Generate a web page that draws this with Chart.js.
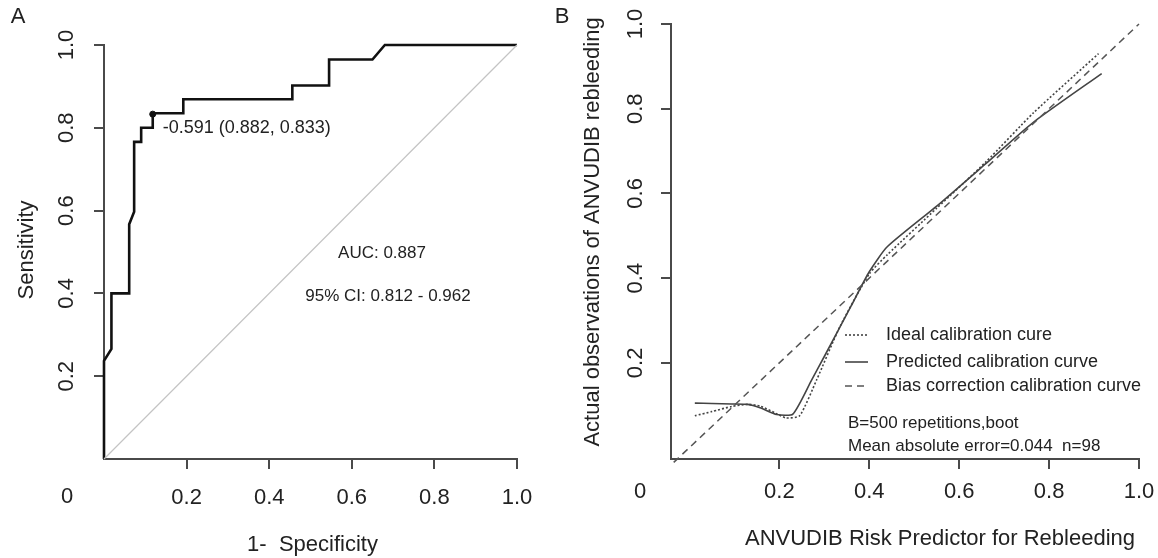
<!DOCTYPE html>
<html>
<head>
<meta charset="utf-8">
<script src="https://cdn.jsdelivr.net/npm/chart.js@4.4.1/dist/chart.umd.min.js"></script>
<style>
  html, body { margin: 0; padding: 0; background: #fff; }
  #wrap { position: relative; width: 1158px; height: 558px; }
  #wrap canvas { position: absolute; left: 0; top: 0; }
</style>
</head>
<body>
<div id="wrap">
  <canvas id="rocChart" width="1158" height="558"></canvas>
  <canvas id="calChart" width="1158" height="558"></canvas>
</div>
<script>
// ---- panel A : ROC curve ----
const rocFpr = [0, 0, 0.018, 0.018, 0.061, 0.061, 0.073, 0.073, 0.09, 0.09, 0.118, 0.118, 0.192, 0.192, 0.456, 0.456, 0.545, 0.545, 0.65, 0.68, 1.0];
const rocTpr = [0, 0.237, 0.266, 0.40, 0.40, 0.567, 0.597, 0.766, 0.766, 0.80, 0.80, 0.835, 0.835, 0.869, 0.869, 0.902, 0.902, 0.965, 0.965, 1.0, 1.0];
const cutFpr = [0.118];
const cutTpr = [0.833];
const chanceLine = [0, 1];
const cutLabel = '-0.591 (0.882, 0.833)';
const aucLabel = 'AUC: 0.887';
const ciLabel = '95% CI: 0.812 - 0.962';

// ---- panel B : calibration curves ----
const idealX = [-0.035, 1.0];
const idealY = [-0.035, 1.0];
const apparentX = [0.012, 0.05, 0.094, 0.13, 0.157, 0.194, 0.23, 0.272, 0.30, 0.36, 0.40, 0.44, 0.55, 0.66, 0.765, 0.917];
const apparentY = [0.105, 0.104, 0.103, 0.102, 0.094, 0.078, 0.079, 0.16, 0.215, 0.335, 0.415, 0.474, 0.57, 0.671, 0.768, 0.883];
const biasX = [0.012, 0.05, 0.094, 0.13, 0.157, 0.194, 0.215, 0.245, 0.283, 0.335, 0.40, 0.44, 0.55, 0.66, 0.765, 0.91];
const biasY = [0.075, 0.085, 0.097, 0.102, 0.098, 0.08, 0.07, 0.075, 0.16, 0.286, 0.41, 0.455, 0.565, 0.675, 0.79, 0.93];
const legendLabels = ['Ideal calibration cure', 'Predicted calibration curve', 'Bias correction calibration curve'];
const noteLines = ['B=500 repetitions,boot', 'Mean absolute error=0.044  n=98'];

// shared tick values / labels
const tickVals = [0.2, 0.4, 0.6, 0.8, 1.0];
const tickLabels = ['0.2', '0.4', '0.6', '0.8', '1.0'];

const FONT = '"Liberation Sans", Arial, sans-serif';
const INK = '#222';
const AXIS = '#4a4a4a';

function toPoints(xs, ys) {
    return xs.map((x, i) => ({ x: x, y: ys[i] }));
}

function drawText(ctx, txt, x, y, size, align, rot) {
    ctx.save();
    ctx.font = size + 'px ' + FONT;
    ctx.fillStyle = INK;
    ctx.textAlign = align || 'center';
    ctx.textBaseline = 'middle';
    ctx.translate(x, y);
    if (rot) ctx.rotate(rot);
    ctx.fillText(txt, 0, 0);
    ctx.restore();
}

function axisOpts(min, max, isX) {
    return {
        type: 'linear',
        min: min,
        max: max,
        afterBuildTicks: s => { s.ticks = tickVals.map(v => ({ value: v })); },
        afterFit: s => { if (isX) s.height = 10; else s.width = 10; },
        ticks: { display: false },
        title: { display: false },
        grid: { display: true, drawOnChartArea: false, drawTicks: true, tickLength: 10, color: AXIS, lineWidth: 2 },
        border: { display: true, color: AXIS, width: 2 }
    };
}

// tick labels and texts for both panels
function labelPlugin(id, extra) {
    return {
        id: id,
        afterDraw(chart) {
            const xs = chart.scales.x, ys = chart.scales.y;
            extra(chart.ctx, xs, ys, chart.chartArea);
        }
    };
}

// ========== panel A ==========
new Chart(document.getElementById('rocChart'), {
    type: 'scatter',
    data: {
        datasets: [
            {
                data: toPoints(chanceLine, chanceLine),
                showLine: true, borderColor: '#c4c4c4', borderWidth: 1.2,
                pointRadius: 0, clip: false
            },
            {
                data: toPoints(rocFpr, rocTpr),
                showLine: true, borderColor: '#111', borderWidth: 2.6,
                pointRadius: 0, clip: false
            },
            {
                data: toPoints(cutFpr, cutTpr),
                backgroundColor: '#111', borderColor: '#111',
                pointRadius: 3, clip: false
            }
        ]
    },
    options: {
        responsive: false,
        animation: false,
        devicePixelRatio: 1,
        layout: { padding: { left: 94, right: 641, top: 45, bottom: 89 } },
        plugins: { legend: { display: false }, tooltip: { enabled: false } },
        scales: { x: axisOpts(0, 1, true), y: axisOpts(0, 1, false) }
    },
    plugins: [labelPlugin('rocText', (ctx, xs, ys, area) => {
        tickVals.forEach((v, i) => {
            drawText(ctx, tickLabels[i], xs.getPixelForValue(v), area.bottom + 39, 22, 'center');
            drawText(ctx, tickLabels[i], area.left - 37, ys.getPixelForValue(v), 22, 'center', -Math.PI / 2);
        });
        drawText(ctx, '0', area.left - 37, area.bottom + 38, 22, 'center');
        drawText(ctx, '1-  Specificity', (area.left + area.right) / 2 + 2, area.bottom + 86, 22, 'center');
        drawText(ctx, 'Sensitivity', 27, (area.top + area.bottom) / 2 - 2, 22, 'center', -Math.PI / 2);
        drawText(ctx, cutLabel, xs.getPixelForValue(cutFpr[0]) + 10, ys.getPixelForValue(0.80), 18, 'left');
        drawText(ctx, aucLabel, 382, ys.getPixelForValue(0.497), 17, 'center');
        drawText(ctx, ciLabel, 388, ys.getPixelForValue(0.392), 17, 'center');
        drawText(ctx, 'A', 18, 17, 22, 'center');
    })]
});

// ========== panel B ==========
const lineStyles = [
    { dash: [2, 2], width: 1.6, color: '#444' },
    { dash: [], width: 1.6, color: '#444' },
    { dash: [7, 5], width: 1.5, color: '#555' }
];

new Chart(document.getElementById('calChart'), {
    type: 'scatter',
    data: {
        datasets: [
            {
                data: toPoints(idealX, idealY),
                showLine: true, borderColor: lineStyles[2].color, borderWidth: lineStyles[2].width,
                borderDash: lineStyles[2].dash, pointRadius: 0, clip: false
            },
            {
                data: toPoints(biasX, biasY),
                showLine: true, borderColor: lineStyles[0].color, borderWidth: lineStyles[0].width,
                borderDash: lineStyles[0].dash, pointRadius: 0, tension: 0.2
            },
            {
                data: toPoints(apparentX, apparentY),
                showLine: true, borderColor: lineStyles[1].color, borderWidth: lineStyles[1].width,
                pointRadius: 0, tension: 0.2
            }
        ]
    },
    options: {
        responsive: false,
        animation: false,
        devicePixelRatio: 1,
        layout: { padding: { left: 661, right: 19, top: 24, bottom: 89 } },
        plugins: { legend: { display: false }, tooltip: { enabled: false } },
        scales: { x: axisOpts(-0.041, 1, true), y: axisOpts(-0.027, 1, false) }
    },
    plugins: [labelPlugin('calText', (ctx, xs, ys, area) => {
        tickVals.forEach((v, i) => {
            drawText(ctx, tickLabels[i], xs.getPixelForValue(v), area.bottom + 33, 22, 'center');
            drawText(ctx, tickLabels[i], area.left - 35, ys.getPixelForValue(v), 22, 'center', -Math.PI / 2);
        });
        drawText(ctx, '0', area.left - 31, area.bottom + 33, 22, 'center');
        drawText(ctx, 'ANVUDIB Risk Predictor for Rebleeding', 940, area.bottom + 80, 22, 'center');
        drawText(ctx, 'Actual observations of ANVUDIB rebleeding', 593, 232, 22, 'center', -Math.PI / 2);
        drawText(ctx, 'B', 562, 17, 22, 'center');

        // legend
        const legY = [335, 362, 386];
        legendLabels.forEach((t, i) => {
            const st = lineStyles[i];
            ctx.save();
            ctx.strokeStyle = st.color;
            ctx.lineWidth = st.width;
            ctx.setLineDash(st.dash);
            ctx.beginPath();
            ctx.moveTo(845, legY[i]);
            ctx.lineTo(868, legY[i]);
            ctx.stroke();
            ctx.restore();
            drawText(ctx, t, 886, legY[i], 18, 'left');
        });
        drawText(ctx, noteLines[0], 848, 423, 17, 'left');
        drawText(ctx, noteLines[1], 848, 446, 17, 'left');
    })]
});
</script>
</body>
</html>
